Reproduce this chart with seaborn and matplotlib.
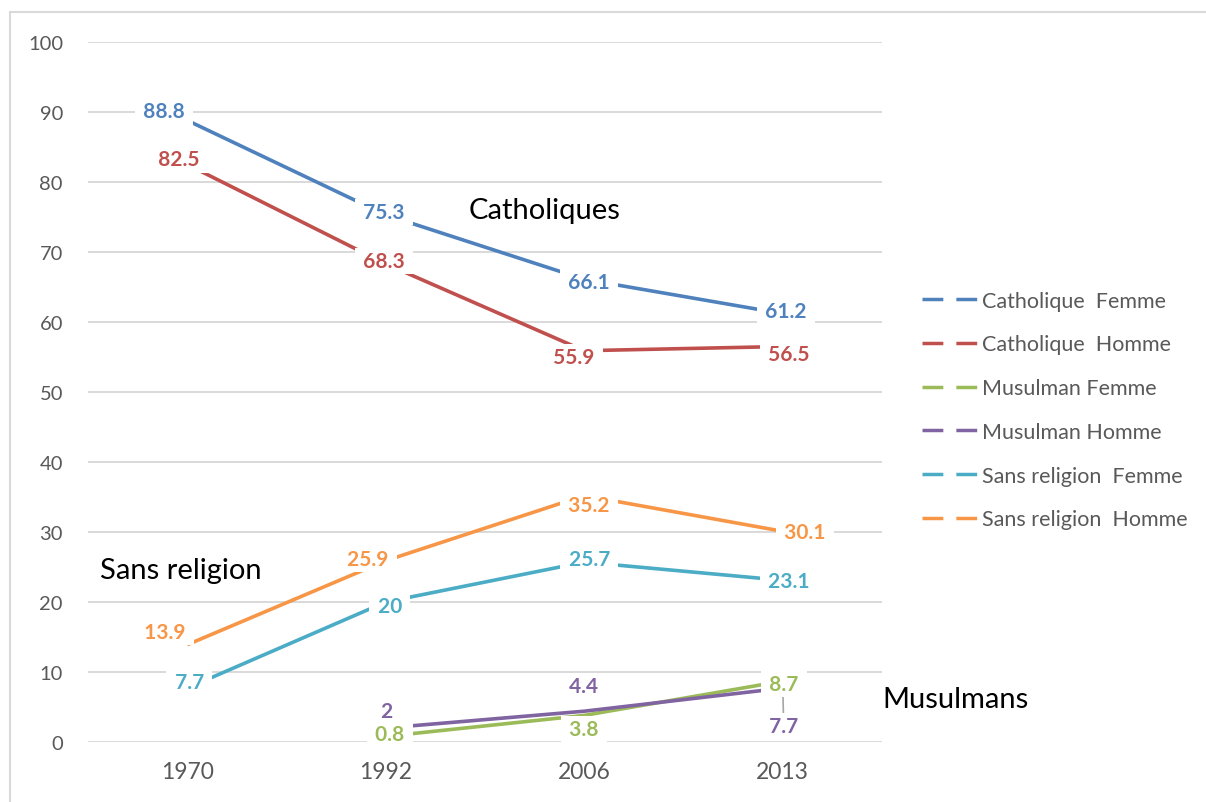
"""Religion by sex, 1970-2013: line chart with data labels."""

import matplotlib.pyplot as plt
import numpy as np
import pandas as pd
import seaborn as sns
from matplotlib.lines import Line2D
from matplotlib.patches import Rectangle

# Data
years = ["1970", "1992", "2006", "2013"]
series_names = [
    "Catholique  Femme",
    "Catholique  Homme",
    "Musulman Femme",
    "Musulman Homme",
    "Sans religion  Femme",
    "Sans religion  Homme",
]
cath_femme = [88.8, 75.3, 66.1, 61.2]
cath_homme = [82.5, 68.3, 55.9, 56.5]
musul_femme = [np.nan, 0.8, 3.8, 8.7]
musul_homme = [np.nan, 2.0, 4.4, 7.7]
sans_femme = [7.7, 20.0, 25.7, 23.1]
sans_homme = [13.9, 25.9, 35.2, 30.1]

colors = ["#4F81BD", "#C0504D", "#9BBB59", "#8064A2", "#4BACC6", "#F79646"]

# label offsets from the point, in pixels (dx right, dy down)
label_offsets = [
    [(-23, -9), (-2, -3), (5, 3), (3, -3)],
    [(-8, -5), (-2, -3), (-10, 6), (6, 8)],
    [None, (4, -2), (0, 14), (1, 3)],
    [None, (1, -17), (-1, -25), (1, 38)],
    [(2, -6), (4, 4), (5, -3), (6, 1)],
    [(-22, -13), (-18, -2), (5, 9), (22, 1)],
]
# green labels sit on top of the purple ones
label_z = [5, 5, 6, 5, 5, 5]

values = [cath_femme, cath_homme, musul_femme, musul_homme, sans_femme, sans_homme]
rows = []
for name, vals in zip(series_names, values):
    for i, v in enumerate(vals):
        rows.append({"series": name, "pos": i, "value": v})
df = pd.DataFrame(rows).dropna()

sns.set_style("white")
plt.rcParams["font.family"] = ["Lato", "DejaVu Sans"]

fig = plt.figure(figsize=(12.06, 8.03), dpi=100)
ax = fig.add_axes([88 / 1206, 60 / 803, 794 / 1206, 700 / 803])

sns.lineplot(
    data=df,
    x="pos",
    y="value",
    hue="series",
    hue_order=series_names,
    palette=colors,
    linewidth=2.6,
    estimator=None,
    legend=False,
    ax=ax,
)
for line in ax.lines:
    line.set_solid_capstyle("butt")
    line.set_zorder(3)

ax.set_xlim(-0.5, 3.5)
ax.set_ylim(0, 100)
ax.set_yticks(range(0, 101, 10))
ax.set_xticks(range(len(years)))
ax.set_xticklabels(years)
ax.set_xlabel("")
ax.set_ylabel("")
ax.grid(True, axis="y", color="#D9D9D9", linewidth=1.4)
ax.grid(False, axis="x")
ax.set_axisbelow(True)
for s in ax.spines.values():
    s.set_visible(False)
ax.tick_params(axis="y", labelsize=14.5, labelcolor="#595959", length=0, pad=18)
ax.tick_params(axis="x", labelsize=16.5, labelcolor="#595959", length=0, pad=14)

# data labels with white boxes (spaces widen the box sideways only)
for si, vals in enumerate(values):
    for i, v in enumerate(vals):
        off = label_offsets[si][i]
        if off is None or np.isnan(v):
            continue
        arrow = None
        if si == 3 and i == 3:
            arrow = dict(arrowstyle="-", color="#A6A6A6", lw=1.2, shrinkA=0, shrinkB=2)
        ax.annotate(
            f" {v:g} ",
            xy=(i, v),
            xytext=(off[0], -off[1]),
            textcoords="offset pixels",
            ha="center",
            va="center",
            fontsize=15,
            fontweight="bold",
            color=colors[si],
            bbox=dict(boxstyle="square,pad=0.15", facecolor="white", edgecolor="none"),
            arrowprops=arrow,
            zorder=label_z[si],
        )

# group annotations
ax.text(1.80, 76, "Catholiques", fontsize=21, ha="center", va="center", color="black")
ax.text(-0.03, 24.6, "Sans religion", fontsize=21, ha="center", va="center", color="black")
ax.text(3.87, 6.1, "Musulmans", fontsize=21, ha="center", va="center", color="black")

# legend
handles = [
    Line2D([], [], color=c, lw=2.5, linestyle=(0, (6, 3.75)), dash_capstyle="butt")
    for c in colors
]
leg = fig.legend(
    handles,
    series_names,
    loc="center left",
    bbox_to_anchor=(922 / 1206, 1 - 411 / 803),
    bbox_transform=fig.transFigure,
    frameon=False,
    fontsize=15.5,
    handlelength=2.55,
    handletextpad=0.25,
    labelspacing=1.1,
    borderpad=0,
    borderaxespad=0,
)
for t in leg.get_texts():
    t.set_color("#595959")

# chart border
fig.patches.append(
    Rectangle(
        (10 / 1206, -0.02),
        1.0,
        1 - 13 / 803 + 0.02,
        transform=fig.transFigure,
        fill=False,
        edgecolor="#D9D9D9",
        linewidth=1.5,
    )
)

fig.savefig("out.png", dpi=100)
plt.close(fig)
